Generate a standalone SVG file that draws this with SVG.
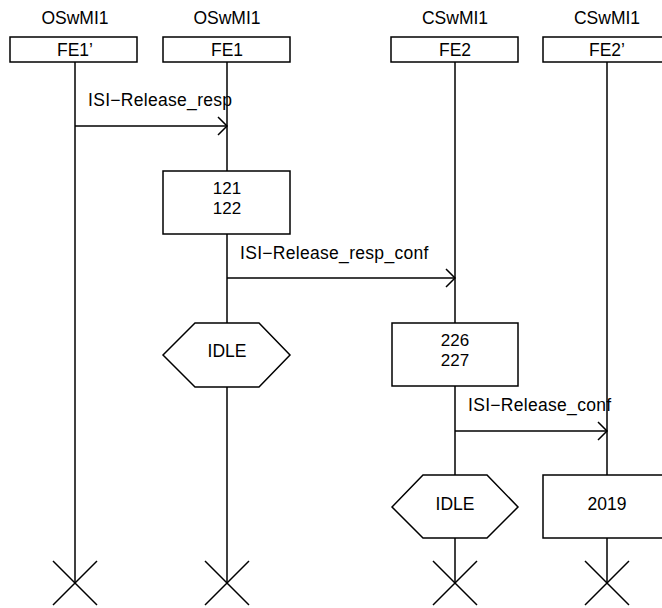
<svg xmlns="http://www.w3.org/2000/svg" width="662" height="608" viewBox="0 0 662 608">
<style>
text{font-family:"Liberation Sans",Arial,sans-serif;font-size:17.5px;fill:#000}
.c{text-anchor:middle}
.m{letter-spacing:0.3px}
.n{font-size:17px}
.s{fill:#fff;stroke:#000;stroke-width:1.5}
.l{stroke:#000;stroke-width:1.5;fill:none}
</style>
<defs>
<marker id="ah" markerUnits="userSpaceOnUse" markerWidth="14" markerHeight="22" refX="10" refY="10" orient="auto" viewBox="0 0 14 22">
<path d="M1,1 L10,10 L1,19" fill="none" stroke="#000" stroke-width="1.5"/>
</marker>
</defs>
<rect width="662" height="608" fill="#fff"/>
<g id="lifelines">
<line class="l" x1="75" y1="62" x2="75" y2="583"/>
<line class="l" x1="227" y1="62" x2="227" y2="583"/>
<line class="l" x1="455" y1="62" x2="455" y2="583"/>
<line class="l" x1="607" y1="62" x2="607" y2="583"/>
</g>
<g id="fe1p">
<text class="c" x="75" y="24">OSwMI1</text>
<rect class="s" x="10" y="37" width="127" height="25"/>
<text class="c" x="75" y="56">FE1’</text>
</g>
<g id="fe1">
<text class="c" x="227" y="24">OSwMI1</text>
<rect class="s" x="163" y="37" width="127" height="25"/>
<text class="c" x="227" y="56">FE1</text>
</g>
<g id="fe2">
<text class="c" x="455" y="24">CSwMI1</text>
<rect class="s" x="391" y="37" width="127" height="25"/>
<text class="c" x="455" y="56">FE2</text>
</g>
<g id="fe2p">
<text class="c" x="607" y="24">CSwMI1</text>
<rect class="s" x="543" y="37" width="127" height="25"/>
<text class="c" x="607" y="56">FE2’</text>
</g>
<g id="connectors">
<line class="l" x1="75" y1="126" x2="227" y2="126" marker-end="url(#ah)"/>
<text class="m" x="88" y="106">ISI−Release_resp</text>
<line class="l" x1="227" y1="278" x2="455" y2="278" marker-end="url(#ah)"/>
<text class="m" x="240" y="259">ISI−Release_resp_conf</text>
<line class="l" x1="455" y1="431" x2="607" y2="431" marker-end="url(#ah)"/>
<text class="m" x="468" y="411">ISI−Release_conf</text>
</g>
<g id="task121">
<rect class="s" x="163" y="171" width="127" height="63"/>
<text class="c n" x="227" y="194">121</text>
<text class="c n" x="227" y="214">122</text>
</g>
<g id="idle1">
<polygon class="s" points="163,355 195,323 259,323 290,355 259,387 195,387"/>
<text class="c" x="227" y="357">IDLE</text>
</g>
<g id="task226">
<rect class="s" x="392" y="323" width="126" height="63"/>
<text class="c n" x="455" y="346">226</text>
<text class="c n" x="455" y="366">227</text>
</g>
<g id="idle2">
<polygon class="s" points="392,507 423,475 487,475 518,507 487,538 423,538"/>
<text class="c" x="455" y="510">IDLE</text>
</g>
<g id="task2019">
<rect class="s" x="543" y="475" width="127" height="63"/>
<text class="c" x="607" y="510">2019</text>
</g>
<g id="stops">
<path class="l" d="M53,561 L97,605 M97,561 L53,605"/>
<path class="l" d="M205,561 L249,605 M249,561 L205,605"/>
<path class="l" d="M433,561 L477,605 M477,561 L433,605"/>
<path class="l" d="M585,561 L629,605 M629,561 L585,605"/>
</g>
</svg>
